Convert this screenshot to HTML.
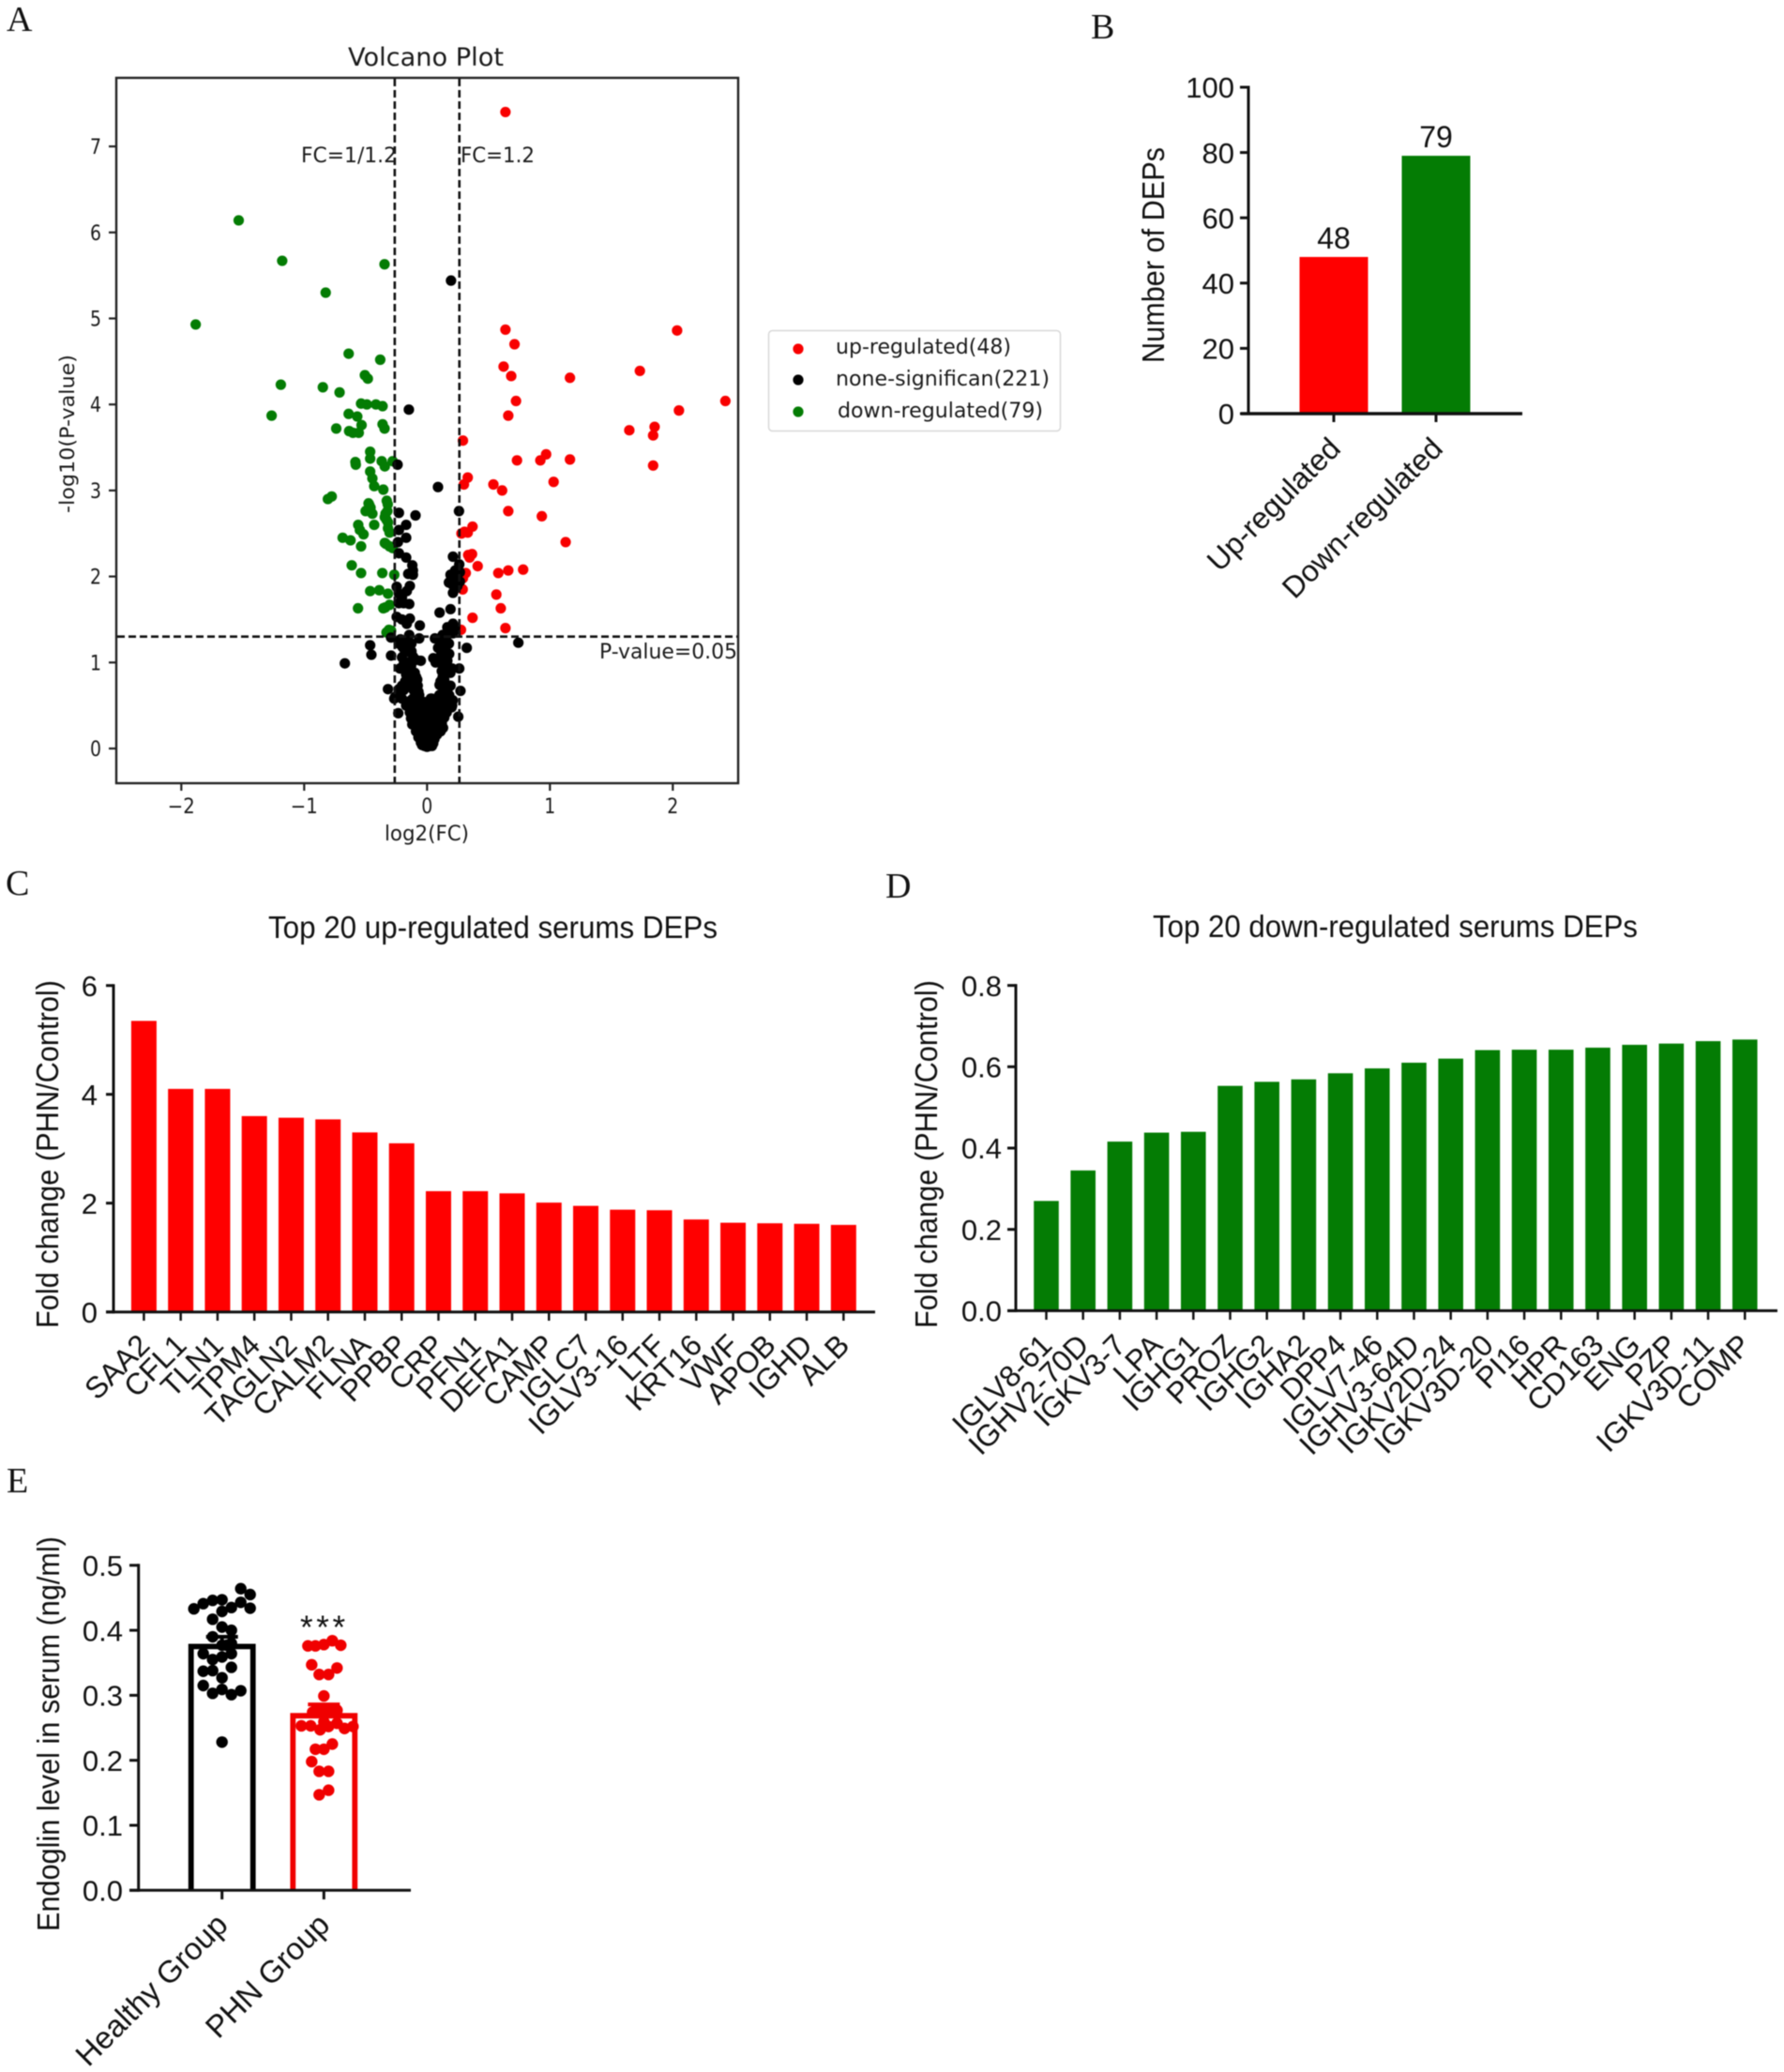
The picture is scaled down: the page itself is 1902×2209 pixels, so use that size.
<!DOCTYPE html>
<html lang="en">
<head>
<meta charset="utf-8">
<title>Serum DEP analysis figure</title>
<style>
html,body{margin:0;padding:0;background:#fff;width:1902px;height:2209px;overflow:hidden}
svg{display:block;filter:blur(.4px)}
.serif{font-family:"Liberation Serif",serif;font-size:38px;fill:#111}
.sans{font-family:"Liberation Sans",sans-serif;fill:#111}
.dv{font-family:"DejaVu Sans",sans-serif;fill:#1a1a1a}
</style>
</head>
<body>
<svg id="fig" xmlns="http://www.w3.org/2000/svg" width="1902" height="2209" viewBox="0 0 1902 2209">
  <rect x="0" y="0" width="1902" height="2209" fill="#fff"/>
  <text class="serif" x="7" y="33">A</text>
  <text class="serif" x="1163" y="41">B</text>
  <text class="serif" x="6" y="954">C</text>
  <text class="serif" x="944" y="957">D</text>
  <text class="serif" x="7" y="1591">E</text>

  <g id="panelA">
    <text class="dv" x="371" y="70" font-size="27" textLength="166" lengthAdjust="spacingAndGlyphs">Volcano Plot</text>
    <text class="dv" x="410" y="896" font-size="22" textLength="90" lengthAdjust="spacingAndGlyphs">log2(FC)</text>
    <text class="dv" transform="translate(79 547) rotate(-90)" font-size="21" textLength="169" lengthAdjust="spacingAndGlyphs">-log10(P-value)</text>
  </g>
  <g id="legendA">
    <rect x="819.5" y="352.5" width="311" height="107" rx="4" fill="#fff" stroke="#d8d8d8" stroke-width="1.5"/>
  </g>
  <g id="panelB">
    <text class="sans" transform="translate(1241 387) rotate(-90)" font-size="33" textLength="230" lengthAdjust="spacingAndGlyphs">Number of DEPs</text>
  </g>
  <g id="panelC">
    <text class="sans" x="286" y="1000" font-size="33" textLength="479" lengthAdjust="spacingAndGlyphs">Top 20 up-regulated serums DEPs</text>
    <text class="sans" transform="translate(62 1416) rotate(-90)" font-size="33" textLength="371" lengthAdjust="spacingAndGlyphs">Fold change (PHN/Control)</text>
  </g>
  <g id="panelD">
    <text class="sans" x="1229" y="999" font-size="33" textLength="517" lengthAdjust="spacingAndGlyphs">Top 20 down-regulated serums DEPs</text>
    <text class="sans" transform="translate(999 1416) rotate(-90)" font-size="33" textLength="371" lengthAdjust="spacingAndGlyphs">Fold change (PHN/Control)</text>
  </g>
  <g id="panelE">
    <text class="sans" transform="translate(63 2059) rotate(-90)" font-size="33" textLength="421" lengthAdjust="spacingAndGlyphs">Endoglin level in serum (ng/ml)</text>
    <text class="sans" x="320" y="1747" font-size="35" letter-spacing="3.6">***</text>
  </g>
</svg>
<script>
// ---------- Panel A data: [log2(FC), -log10(P)]
var upRegulated = [
[.638,7.40],[.638,4.87],[.712,4.70],[2.035,4.86],[.623,4.44],[.685,4.33],[1.163,4.31],[1.732,4.39],
[.724,4.04],[2.428,4.04],[.661,3.87],[2.05,3.93],[1.646,3.70],[1.852,3.74],[1.84,3.64],[.292,3.58],
[.969,3.42],[.732,3.35],[.922,3.35],[1.163,3.36],[1.84,3.29],[1.03,3.10],[.331,3.15],[.30,3.07],
[.54,3.07],[.611,3.00],[.661,2.76],[.934,2.70],[.37,2.58],[.331,2.51],[.28,2.50],[.305,2.52],
[1.128,2.40],[.366,2.26],[.346,2.22],[.412,2.12],[.782,2.08],[.661,2.07],[.58,2.04],[.315,2.04],
[.29,1.85],[.564,1.79],[.6,1.63],[.37,1.52],[.638,1.40],[.276,1.38],[.335,2.25],[.292,1.98]
];
var downRegulated = [
[-1.533,6.14],[-1.179,5.67],[-.346,5.63],[-.825,5.30],[-1.883,4.93],[-.638,4.59],[-.381,4.52],[-.506,4.34],
[-.482,4.30],[-1.19,4.23],[-.848,4.20],[-.712,4.14],[-.537,4.01],[-.49,4.00],[-.416,4.00],[-.362,3.98],
[-1.265,3.87],[-.638,3.89],[-.568,3.86],[-.362,3.77],[-.346,3.72],[-.739,3.72],[-.533,3.76],[-.634,3.69],
[-.603,3.67],[-.556,3.67],[-.463,3.45],[-.463,3.37],[-.583,3.33],[-.369,3.34],[-.344,3.28],[-.28,3.34],
[-.463,3.22],[-.445,3.14],[-.43,3.05],[-.356,3.01],[-.328,2.88],[-.776,2.93],[-.807,2.90],[-.476,2.85],
[-.46,2.80],[-.5,2.76],[-.445,2.73],[-.323,2.76],[-.344,2.69],[-.318,2.63],[-.43,2.60],[-.56,2.60],
[-.547,2.54],[-.517,2.49],[-.318,2.56],[-.305,2.51],[-.687,2.45],[-.623,2.42],[-.537,2.35],[-.344,2.39],
[-.305,2.35],[-.28,2.33],[-.613,2.13],[-.537,2.04],[-.364,2.04],[-.267,2.02],[-.463,1.83],[-.389,1.84],
[-.318,1.80],[-.305,1.67],[-.356,1.63],[-.562,1.63],[-.33,1.35],[-.293,1.37],[-.338,2.73],[-.32,2.84],
[-.47,2.83],[-.48,2.78],[-.33,2.66],[-.335,2.38],[-.31,1.38],[-.34,1.64],[-.58,3.30]
];
var noneSignificant = [
[-.148,3.94],[.195,5.44],[-.24,3.30],[.089,3.04],[-.229,2.74],[-.094,2.71],[.26,2.76],[-.17,2.6],
[-.229,2.54],[-.17,2.45],[-.237,2.40],[-.229,2.27],[-.17,2.22],[.211,2.23],[-.12,2.13],[-.115,2.07],
[-.153,2.03],[-.115,2.02],[.262,2.14],[.229,2.07],[.267,2.05],[.191,2.02],[.242,2.0],[.216,1.97],
[.178,1.93],[.267,1.94],[.204,1.91],[.247,1.89],[.211,1.81],[-.247,1.88],[-.14,1.89],[-.165,1.83],
[-.229,1.80],[-.204,1.76],[-.229,1.69],[-.145,1.68],[-.19,1.69],[.191,1.62],[.102,1.58],[-.247,1.53],
[-.14,1.51],[-.204,1.50],[-.165,1.45],[-.059,1.43],[.211,1.45],[.165,1.41],[.229,1.40],[.191,1.36],
[.127,1.32],[.16,1.31],[.064,1.28],[.102,1.27],[.14,1.25],[.211,1.34],[-.293,1.29],[-.216,1.27],
[-.145,1.32],[-.178,1.23],[-.064,1.28],[-.127,1.22],[-.229,1.22],[.178,1.22],[-.463,1.2],[-.453,1.09],
[-.669,.99],[.323,1.17],[.743,1.23],[-.293,1.08],[-.204,1.06],[-.127,1.13],[-.089,1.03],[-.051,1.02],
[-.115,1.07],[.051,1.05],[.153,1.11],[.115,1.09],[.102,1.0],[.165,1.02],[.14,.94],[.204,.93],
[.262,.93],[-.221,.93],[-.153,.93],[-.127,.91],[-.089,.83],[-.14,.82],[-.178,.78],[-.204,.73],
[-.115,.76],[-.076,.73],[.127,.83],[.145,.76],[.102,.74],[.191,.73],[.14,.69],[-.318,.69],
[-.229,.69],[.272,.67],[-.267,.58],[-.204,.58],[-.165,.54],[-.064,.62],[-.115,.58],[-.025,.54],
[.038,.58],[.127,.54],[.204,.50],[.165,.62],[-.234,.41],[.254,.37],
[-.13,.56],[-.08,.6],[-.05,.55],[.03,.58],[.06,.5],[.1,.52],[.14,.55],[.17,.5],[.2,.48],[-.17,.5],
[-.11,.48],[-.07,.46],[-.03,.5],[.02,.47],[.05,.42],[.09,.45],[.13,.44],[.16,.42],[-.14,.42],[-.1,.4],
[-.06,.39],[-.02,.42],[.02,.4],[.07,.37],[.11,.38],[.14,.36],[-.13,.35],[-.1,.33],[-.07,.31],[-.03,.35],
[.01,.33],[.04,.3],[.08,.31],[.12,.29],[.13,.24],[-.12,.28],[-.09,.25],[-.06,.23],[-.03,.27],[.01,.26],
[.05,.24],[.09,.22],[.11,.2],[-.09,.2],[-.07,.17],[-.04,.19],[-.01,.21],[.02,.18],[.05,.17],[.08,.16],
[-.07,.13],[-.05,.11],[-.02,.14],[.01,.12],[.03,.13],[.06,.11],[-.05,.07],[-.03,.08],[-.01,.06],[.01,.08],
[.03,.07],[.05,.06],[-.02,.03],[0,.02],[.02,.03],[-.04,.04],[.04,.03],
[-.2,1.18],[-.18,1.12],[-.15,1.17],[-.12,1.02],[-.16,1.0],[-.19,.98],[-.13,.96],[-.1,.88],[-.17,.86],
[-.12,.8],[-.08,.8],[-.15,.75],[-.19,.68],[-.11,.68],[-.07,.66],[-.26,.6],[-.22,.62],[.09,1.17],
[.12,1.15],[.15,1.18],[.18,1.1],[.07,1.0],[.13,1.0],[.16,.98],[.12,.9],[.19,.88],[.14,.8],[.11,.78],
[.17,.7],[.13,.65],[.18,.62],[.21,.56],[.16,.6],[.1,.62]
];
var volcanoXTicks = ['\u22122','\u22121','0','1','2'];
var volcanoYTicks = ['0','1','2','3','4','5','6','7'];
var fcThresholds = [-0.263, 0.263];
var pThreshold = [1.301];

// ---------- Panel B data
var countCategories = ['Up-regulated','Down-regulated'];
var countValues = [48,79];
var countTicks = ['0','20','40','60','80','100'];

// ---------- Panel C data
var upProteins = ['SAA2','CFL1','TLN1','TPM4','TAGLN2','CALM2','FLNA','PPBP','CRP','PFN1','DEFA1','CAMP','IGLC7','IGLV3-16','LTF','KRT16','VWF','APOB','IGHD','ALB'];
var upFoldChange = [5.35,4.1,4.1,3.6,3.57,3.54,3.3,3.1,2.22,2.22,2.18,2.01,1.95,1.88,1.87,1.70,1.64,1.63,1.62,1.60];
var upTicks = ['0','2','4','6'];

// ---------- Panel D data
var downProteins = ['IGLV8-61','IGHV2-70D','IGKV3-7','LPA','IGHG1','PROZ','IGHG2','IGHA2','DPP4','IGLV7-46','IGHV3-64D','IGKV2D-24','IGKV3D-20','PI16','HPR','CD163','ENG','PZP','IGKV3D-11','COMP'];
var downFoldChange = [.27,.345,.416,.438,.44,.553,.563,.569,.584,.596,.61,.62,.641,.642,.642,.647,.654,.657,.663,.667];
var downTicks = ['0.0','0.2','0.4','0.6','0.8'];

// ---------- Panel E data
var groups = ['Healthy Group','PHN Group'];
var groupMeans = [.379,.2725];
var groupErrors = [.011,.0135];
var endoglinTicks = ['0.0','0.1','0.2','0.3','0.4','0.5'];
// swarm offset (in dot columns) and value for every subject
var healthyOffsets = [2,3,2,0,-1,-2,-3,3,1,0,-1,0,1,-1,1,0,.5,-2,1,0,-1,-1,-2,1,0,-2,0,-1,1,2,0];
var healthyValues = [.464,.455,.443,.447,.446,.441,.433,.434,.435,.429,.417,.405,.400,.390,.380,.377,.377,.364,.364,.359,.355,.338,.337,.343,.327,.315,.309,.303,.301,.307,.228];
var phnOffsets = [-1.7,-.9,0,.9,1.8,-1.3,1.4,-.5,.5,0,-.9,0,.9,1.4,-1.2,-2.4,-1.4,-.4,.5,1.4,2.2,3.1,0,.9,0,-.9,-1.3,-.5,.5,.5,-.5];
var phnValues = [.376,.376,.378,.384,.377,.347,.342,.332,.332,.299,.277,.277,.277,.277,.274,.253,.253,.247,.252,.257,.249,.252,.259,.225,.217,.217,.198,.183,.183,.154,.147];

// ---------- Scales
function xA(v){return 455.3+131*v;}
function yA(v){return 798-91.7*v;}
function yB(v){return 441-3.48*v;}
function xB(i){return 1422+109*i;}
function yC(v){return 1398.7-58*v;}
function xC(i){return 153.4+39.26*i;}
function yD(v){return 1397.4-433.5*v;}
function xD(i){return 1115.5+39.2*i;}
function yE(v){return 2015.3-693*v;}
function xE(i){return 236.7+108.6*i;}

var NS='http://www.w3.org/2000/svg';
function make(tag,parent,attrs){
  var el=document.createElementNS(NS,tag);
  for(var k in attrs){el.setAttribute(k,attrs[k]);}
  parent.appendChild(el);
  return el;
}
function line(parent,x1,y1,x2,y2,w,name,color,dash){
  var el=make('line',parent,{x1:x1,y1:y1,x2:x2,y2:y2,stroke:color||'#111','stroke-width':w});
  if(dash){el.setAttribute('stroke-dasharray',dash);}
  
  
  return el;
}
function label(parent,x,y,str,cls,size,anchor,name){
  var el=make('text',parent,{x:x,y:y,'class':cls,'font-size':size,'text-anchor':anchor});
  el.textContent=str;
  
  
  return el;
}
function squeeze(el,len){
  el.setAttribute('textLength',len);
  el.setAttribute('lengthAdjust','spacingAndGlyphs');
}
function slanted(parent,x,y,str,size,name){
  var el=make('text',parent,{'class':'sans','font-size':size,'text-anchor':'end',transform:'translate('+x+' '+y+') rotate(-45)'});
  el.textContent=str;
  
  
  return el;
}
function dot(parent,cx,cy,r,color,name){
  var el=make('circle',parent,{cx:cx,cy:cy,r:r,fill:color});
  
  
  return el;
}
function bar(parent,cx,w,top,base,color,name){
  var el=make('rect',parent,{x:cx-w/2,y:top,width:w,height:base-top,fill:color});
  
  
  return el;
}
function yAxis(parent,ticks,scale,axisX,tickLeft,labelRight,size,prefix){
  line(parent,axisX,scale(parseFloat(ticks[ticks.length-1]))-1.5,axisX,scale(parseFloat(ticks[0]))+1.5,3,prefix+'-y-axis-line');
  ticks.forEach(function(t){
    var y=scale(parseFloat(t));
    line(parent,tickLeft,y,axisX,y,3,prefix+'-y-tick');
    label(parent,labelRight,y+size*0.36,t,'sans',size,'end',prefix+'-y-tick-label');
  });
}

// ---------- Panel A
(function(){
  var g=document.getElementById('panelA');
  var frame=make('rect',g,{x:124,y:83,width:663,height:752,fill:'none',stroke:'#222','stroke-width':2.4});
  
  
  volcanoXTicks.forEach(function(t){
    var v=parseFloat(t.replace('\u2212','-'));
    line(g,xA(v),835,xA(v),843,2.2,'volcano-x-tick','#222');
    squeeze(label(g,xA(v),867,t,'dv',22,'middle','volcano-x-tick-label'),t.length>1?29:12);
  });
  volcanoYTicks.forEach(function(t){
    var v=parseFloat(t);
    line(g,116,yA(v),124,yA(v),2.2,'volcano-y-tick','#222');
    squeeze(label(g,108,yA(v)+8,t,'dv',22,'end','volcano-y-tick-label'),12);
  });
  downRegulated.forEach(function(p){dot(g,xA(p[0]),yA(p[1]),5.6,'#047c04','volcano-point-down');});
  upRegulated.forEach(function(p){dot(g,xA(p[0]),yA(p[1]),5.6,'#f80000','volcano-point-up');});
  noneSignificant.forEach(function(p){dot(g,xA(p[0]),yA(p[1]),5.6,'#000','volcano-point-none');});
  fcThresholds.forEach(function(v){
    line(g,xA(v),84,xA(v),834,2.6,'fc-threshold-line','#111','8 4');
  });
  pThreshold.forEach(function(v){
    line(g,125,yA(v),786,yA(v),2.6,'p-value-threshold-line','#111','8 4');
  });
  squeeze(label(g,321,173,'FC=1/1.2','dv',22,'start','fc-low-annotation'),102);
  squeeze(label(g,491,173,'FC=1.2','dv',22,'start','fc-high-annotation'),79);
  squeeze(label(g,639,702,'P-value=0.05','dv',22,'start','p-value-annotation'),147);
  var lg=document.getElementById('legendA');
  dot(lg,851,372,5.6,'#f80000','legend-marker-up');
  dot(lg,851,405,5.6,'#000','legend-marker-none');
  dot(lg,851,439,5.6,'#047c04','legend-marker-down');
  squeeze(label(lg,891,377,'up-regulated('+upRegulated.length+')','dv',22,'start','legend-entry-up'),187);
  squeeze(label(lg,891,411,'none-significan(221)','dv',22,'start','legend-entry-none'),228);
  squeeze(label(lg,893,445,'down-regulated('+downRegulated.length+')','dv',22,'start','legend-entry-down'),219);
})();

// ---------- Panel B
(function(){
  var g=document.getElementById('panelB');
  var colors=['#ff0000','#047c04'];
  countValues.forEach(function(v,i){
    bar(g,xB(i),73,yB(v),yB(0),colors[i],'count-bar');
    label(g,xB(i),yB(v)-9,String(v),'sans',32,'middle','count-value-label');
    line(g,xB(i),yB(0),xB(i),450,3,'count-x-tick');
    slanted(g,xB(i)+9,480,countCategories[i],32,'count-x-tick-label');
  });
  yAxis(g,countTicks,yB,1331,1322,1316,31,'count');
  line(g,1323,yB(0),1623,yB(0),3.5,'count-x-axis-line');
})();

// ---------- Panel C
(function(){
  var g=document.getElementById('panelC');
  upFoldChange.forEach(function(v,i){
    bar(g,xC(i),27,yC(v),yC(0),'#ff0000','up-bar');
    line(g,xC(i),yC(0),xC(i),1408,2.5,'up-x-tick');
    slanted(g,xC(i)+8,1436,upProteins[i],32,'up-x-tick-label');
  });
  yAxis(g,upTicks,yC,121,113,104,31,'up');
  line(g,113,yC(0),933,yC(0),3,'up-x-axis-line');
})();

// ---------- Panel D
(function(){
  var g=document.getElementById('panelD');
  downFoldChange.forEach(function(v,i){
    bar(g,xD(i),26.6,yD(v),yD(0),'#047c04','down-bar');
    line(g,xD(i),yD(0),xD(i),1407,2.5,'down-x-tick');
    slanted(g,xD(i)+8,1436,downProteins[i],32,'down-x-tick-label');
  });
  yAxis(g,downTicks,yD,1083,1074,1068,31,'down');
  line(g,1074,yD(0),1895,yD(0),3,'down-x-axis-line');
})();

// ---------- Panel E
(function(){
  var g=document.getElementById('panelE');
  var colors=['#000','#f00000'];
  var offs=[healthyOffsets,phnOffsets];
  var vals=[healthyValues,phnValues];
  groupMeans.forEach(function(m,i){
    var cx=xE(i);
    var outline=make('path',g,{d:'M'+(cx-33)+' '+yE(0)+'V'+(yE(m)+2.75)+'H'+(cx+33)+'V'+yE(0),fill:'#fff',stroke:colors[i],'stroke-width':5.8});
    
    
    line(g,cx,yE(m),cx,yE(m+groupErrors[i]),4,'endoglin-error-bar',colors[i]);
    line(g,cx-17,yE(m+groupErrors[i]),cx+17,yE(m+groupErrors[i]),4,'endoglin-error-cap',colors[i]);
    vals[i].forEach(function(v,j){
      dot(g,cx+offs[i][j]*10,yE(v),6.2,colors[i],'endoglin-subject-point');
    });
    line(g,cx,yE(0),cx,2025,3,'endoglin-x-tick');
    slanted(g,cx+8,2054,groups[i],33,'endoglin-x-tick-label');
  });
  yAxis(g,endoglinTicks,yE,147.7,138,131,31,'endoglin');
  line(g,138,yE(0),438,yE(0),3,'endoglin-x-axis-line');
})();
</script>
</body>
</html>
